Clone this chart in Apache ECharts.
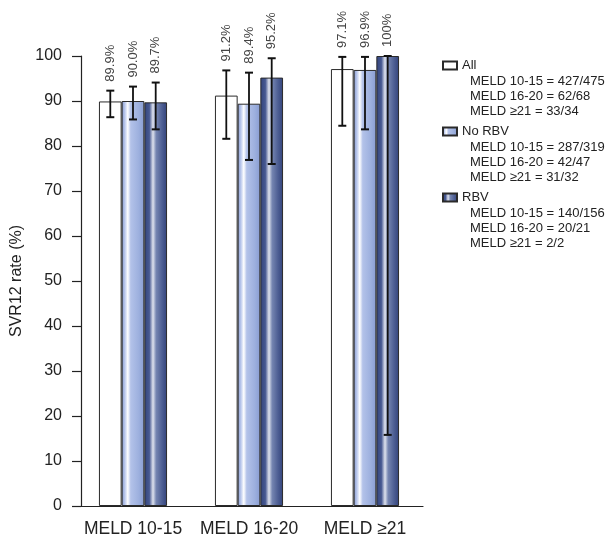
<!DOCTYPE html>
<html>
<head>
<meta charset="utf-8">
<script src="https://cdn.jsdelivr.net/npm/echarts@6/dist/echarts.min.js"></script>
<style>html,body{margin:0;padding:0;background:#fff;}#c{width:605px;height:538px;}</style>
</head>
<body>
<div id="c"></div>
<script>
var categories = ['MELD 10-15', 'MELD 16-20', 'MELD \u226521'];
var seriesNames = ['All', 'No RBV', 'RBV'];
var allValues = [89.9, 91.2, 97.1];
var noRbvValues = [90.0, 89.4, 96.9];
var rbvValues = [89.7, 95.2, 100];
var allLow = [86.4, 81.6, 84.5];
var allHigh = [92.3, 96.8, 99.8];
var noRbvLow = [85.9, 76.9, 83.7];
var noRbvHigh = [93.2, 96.3, 99.8];
var rbvLow = [83.7, 76.0, 15.8];
var rbvHigh = [94.1, 99.5, 100];
var allLabels = ['89.9%', '91.2%', '97.1%'];
var noRbvLabels = ['90.0%', '89.4%', '96.9%'];
var rbvLabels = ['89.7%', '95.2%', '100%'];
var yTicks = [0, 10, 20, 30, 40, 50, 60, 70, 80, 90, 100];
var legendDetails = [
  ['MELD 10-15 = 427/475', 'MELD 16-20 = 62/68', 'MELD \u226521 = 33/34'],
  ['MELD 10-15 = 287/319', 'MELD 16-20 = 42/47', 'MELD \u226521 = 31/32'],
  ['MELD 10-15 = 140/156', 'MELD 16-20 = 20/21', 'MELD \u226521 = 2/2']
];

var FONT = '"Liberation Sans", Arial, Helvetica, sans-serif';
var BAR_W = 22.7;
var values = [allValues, noRbvValues, rbvValues];
var lows = [allLow, noRbvLow, rbvLow];
var highs = [allHigh, noRbvHigh, rbvHigh];
var labels = [allLabels, noRbvLabels, rbvLabels];

var fills = [
  '#ffffff',
  new echarts.graphic.LinearGradient(0, 0, 1, 0, [
    {offset: 0, color: '#8599d0'},
    {offset: 0.14, color: '#b9c7ec'},
    {offset: 0.27, color: '#ffffff'},
    {offset: 0.40, color: '#b3c2e9'},
    {offset: 0.75, color: '#9db0de'},
    {offset: 1, color: '#889cd2'}
  ]),
  new echarts.graphic.LinearGradient(0, 0, 1, 0, [
    {offset: 0, color: '#33447b'},
    {offset: 0.22, color: '#465891'},
    {offset: 0.38, color: '#dfe3ee'},
    {offset: 0.52, color: '#7585b1'},
    {offset: 0.78, color: '#4d5e93'},
    {offset: 1, color: '#32427a'}
  ])
];

var series = [];
for (var s = 0; s < 3; s++) {
  series.push({
    name: seriesNames[s],
    type: 'bar',
    data: values[s],
    barWidth: BAR_W,
    barGap: '0%',
    itemStyle: {color: fills[s], borderColor: '#2a2a2a', borderWidth: 1},
    emphasis: {disabled: true},
    z: 2
  });
}
for (var s2 = 0; s2 < 3; s2++) {
  (function (si) {
    var data = categories.map(function (c, i) { return [i, lows[si][i], highs[si][i]]; });
    series.push({
      type: 'custom',
      name: seriesNames[si] + ' CI',
      data: data,
      z: 5,
      silent: true,
      renderItem: function (params, api) {
        var idx = api.value(0);
        var lo = api.coord([idx, api.value(1)]);
        var hi = api.coord([idx, api.value(2)]);
        var x = lo[0] + (si - 1) * BAR_W;
        var cap = 4;
        return {
          type: 'group',
          children: [
            {type: 'line', shape: {x1: x, y1: lo[1], x2: x, y2: hi[1]}, style: {stroke: '#111', lineWidth: 1.8}},
            {type: 'line', shape: {x1: x - cap, y1: lo[1], x2: x + cap, y2: lo[1]}, style: {stroke: '#111', lineWidth: 2}},
            {type: 'line', shape: {x1: x - cap, y1: hi[1], x2: x + cap, y2: hi[1]}, style: {stroke: '#111', lineWidth: 2}},
            {type: 'text', x: x, y: hi[1] - 9, rotation: Math.PI / 2,
             style: {text: labels[si][idx], x: 0, y: 0, align: 'left', verticalAlign: 'middle',
                     fill: '#444', font: '13px ' + FONT}}
          ]
        };
      }
    });
  })(s2);
}

var graphics = [];
for (var g = 0; g < 3; g++) {
  for (var l = 0; l < 3; l++) {
    graphics.push({
      type: 'text', left: 470, top: 75 + g * 66 + l * 15,
      style: {text: legendDetails[g][l], fill: '#222', font: '13px ' + FONT}
    });
  }
}

var chart = echarts.init(document.getElementById('c'), null, {renderer: 'canvas'});
chart.setOption({
  animation: false,
  backgroundColor: '#ffffff',
  grid: {left: 75, right: 182, top: 56, bottom: 29, containLabel: false},
  legend: {
    data: seriesNames,
    orient: 'vertical',
    left: 442, top: 59,
    padding: 0,
    itemWidth: 14, itemHeight: 8, itemGap: 53,
    icon: 'rect',
    selectedMode: false,
    textStyle: {color: '#222', fontSize: 13, fontFamily: FONT}
  },
  xAxis: {
    type: 'category',
    data: categories,
    axisLine: {lineStyle: {color: '#222', width: 1.2}},
    axisTick: {show: false},
    axisLabel: {color: '#222', fontSize: 17.5, fontFamily: FONT, margin: 14, interval: 0, hideOverlap: false}
  },
  yAxis: {
    type: 'value',
    min: yTicks[0], max: yTicks[yTicks.length - 1], interval: 10,
    offset: -6,
    name: 'SVR12 rate (%)',
    nameLocation: 'middle',
    nameGap: 51,
    nameTextStyle: {color: '#222', fontSize: 16, fontFamily: FONT},
    axisLine: {show: true, lineStyle: {color: '#222', width: 1.2}},
    axisTick: {show: true, length: 9, lineStyle: {color: '#222', width: 1.2}},
    splitLine: {show: false},
    axisLabel: {color: '#222', fontSize: 16, fontFamily: FONT, margin: 19}
  },
  graphic: graphics,
  series: series
});
</script>
</body>
</html>
